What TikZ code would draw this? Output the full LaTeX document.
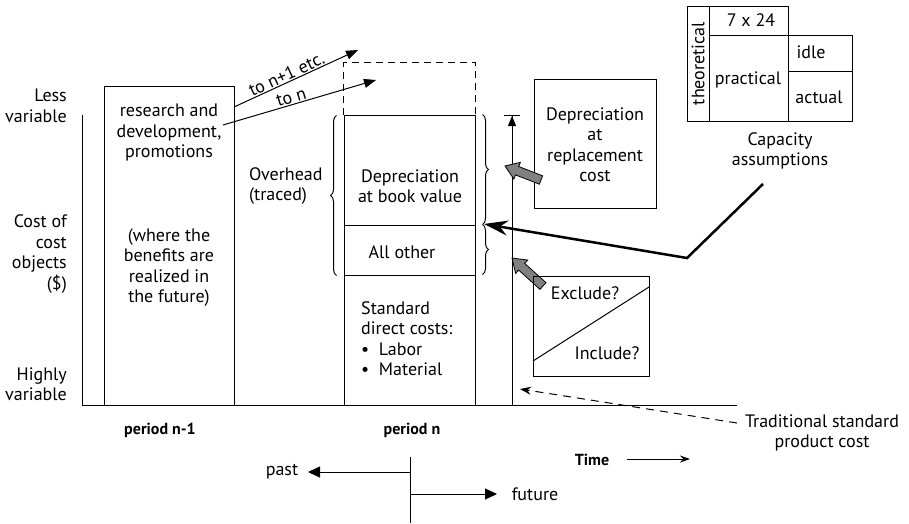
\documentclass[tikz,border=0pt]{standalone}
\usepackage{fontspec}
\setmainfont{PT Sans}
\usetikzlibrary{arrows.meta,decorations.pathreplacing,calc}
\begin{document}
\begin{tikzpicture}[x=1pt,y=-1pt,
  every node/.style={font=\fontsize{18}{20.5}\selectfont, inner sep=0pt},
  ln/.style={line width=1pt},
  txt/.style={align=center},
  bold/.style={font=\fontsize{16}{18}\selectfont\bfseries},
  grayfill/.style={draw=black, fill=black!50, line width=0.8pt, line join=miter},
  brc/.style={decorate, decoration={brace, amplitude=6pt}, line width=1pt},
  tri/.style={-{Triangle[length=12pt,width=11pt]}}
]
\useasboundingbox (0,0) rectangle (909,523);

% axes
\coordinate (ytop) at (82,115);
\coordinate (orig) at (82,405);
\coordinate (xend) at (737,405);
\draw[ln] (ytop) -- (orig) -- (xend);

% axis labels
\node[txt, align=right, anchor=east] (lessv) at (67,106) {Less\\variable};
\node[txt, align=right, anchor=east] (costobj) at (67,254) {Cost of\\cost\\objects\\(\$)};
\node[txt, align=right, anchor=east] (highv) at (67,384) {Highly\\variable};

% left box
\node[draw, line width=1pt, minimum width=130, minimum height=319] (rd) at (169,245.5) {};
\node[txt] (rdtext) at (169,132.5) {research and\\development,\\promotions};
\node[txt] (rdnote) at (169,267.5) {(where the\\benefits are\\realized in\\the future)};

\node[txt, align=left, anchor=west] (ovh) at (249,186) {Overhead\\(traced)};

% middle boxes
\node[draw, line width=1pt, minimum width=131, minimum height=110] (dbv) at (409.5,170) {};
\node[draw, line width=1pt, minimum width=131, minimum height=50] (aoth) at (409.5,250) {};
\node[draw, line width=1pt, minimum width=131, minimum height=130] (sdc) at (409.5,340) {};
\node[txt] (dbvt) at (410,186) {Depreciation\\at book value};
\node[txt] (aotht) at (402,252) {All other};
\node[txt, align=left, anchor=west] (sdct) at (361,338.5) {Standard\\direct costs:\\\textbullet\ \ Labor\\\textbullet\ \ Material};

% dashed box above
\draw[ln, dash pattern=on 7pt off 5pt] (dbv.north west) -- ++(0,-52) -| (dbv.north east);

% braces
\draw[brc] (aoth.south west) ++(-7,0) coordinate (lb1) -- ++(0,-160) coordinate (lb2);
\draw[brc] (dbv.north east) ++(7,0) coordinate (rb1) -- ++(0,110) coordinate (rb2);
\draw[brc] (rb2) -- ++(0,50) coordinate (rb3);

% to n arrows
\coordinate (a1s) at (234,107);
\coordinate (a1e) at (358,50);
\coordinate (a2s) at (223,125);
\coordinate (a2e) at (376,80);
\draw[ln, -{Triangle[length=12pt,width=9pt]}] (a1s) -- node[pos=0.45, above=1pt, sloped] (lbl1) {to n+1 etc.} (a1e);
\draw[ln, -{Triangle[length=12pt,width=9pt]}] (a2s) -- node[pos=0.46, above=1pt, sloped] (lbl2) {to n} (a2e);

% vertical arrow with bar
\coordinate (vb) at (512,405);
\coordinate (vt) at (512,115);
\draw[ln, -{Triangle[length=10pt,width=8pt] Bar[width=16pt,line width=1pt]}] (vb) -- (vt);

% depreciation at replacement cost
\node[draw, line width=1pt, minimum width=122, minimum height=129] (drc) at (595,143.5) {};
\node[txt] (drct) at (595,144.5) {Depreciation\\at\\replacement\\cost};

% gray block arrows
\coordinate (g1t) at (541,180);
\coordinate (g1p) at (505,166);
\coordinate (g2t) at (543,286);
\coordinate (g2p) at (512,258);
\foreach \T/\P in {g1t/g1p, g2t/g2p}{
  \path[grayfill] ($(\T)!4.5pt!90:(\P)$) -- ($($(\P)!13pt!(\T)$)!4.5pt!-90:(\T)$)
     -- ($($(\P)!13pt!(\T)$)!9pt!-90:(\T)$) -- (\P)
     -- ($($(\P)!13pt!(\T)$)!9pt!90:(\T)$) -- ($($(\P)!13pt!(\T)$)!4.5pt!90:(\T)$)
     -- ($(\T)!4.5pt!-90:(\P)$) -- cycle;
}

% exclude/include box
\node[draw, line width=1pt, minimum width=116, minimum height=100] (exin) at (591,326) {};
\coordinate (d1) at (533,361);
\coordinate (d2) at (649,287);
\draw[ln] (d1) -- (d2);
\node (excl) at (585,293) {Exclude?};
\node (incl) at (607,353) {Include?};

% capacity box
\node[draw, line width=1pt, minimum width=22, minimum height=115] (theo) at (698,63.5) {};
\node[rotate=90] (theot) at (698,63.5) {theoretical};
\node[draw, line width=1pt, minimum width=79, minimum height=29] (c724) at (748.5,20.5) {};
\node (c724t) at (751,20) {7 x 24};
\node[draw, line width=1pt, minimum width=79, minimum height=86] (prac) at (748.5,78) {};
\node (pract) at (748,80) {practical};
\node[draw, line width=1pt, minimum width=64, minimum height=36] (idle) at (820,53) {};
\node (idlet) at (811,52) {idle};
\node[draw, line width=1pt, minimum width=64, minimum height=50] (act) at (820,96) {};
\node (actt) at (819,97) {actual};
\node[txt] (capa) at (780,151) {Capacity\\assumptions};

% thick line
\coordinate (k1) at (763,184);
\coordinate (k2) at (687,258);
\coordinate (k3) at (484,224);
\draw[line width=2.5pt, -{Stealth[length=24pt,width=15pt,inset=8pt]}] (k1) -- (k2) -- (k3);

% traditional standard product cost
\node[txt] (trad) at (822,433) {Traditional standard\\product cost};
\coordinate (ds) at (737,423);
\coordinate (de) at (520,389);
\draw[ln, dash pattern=on 8pt off 6pt, -{Stealth[length=11pt,width=8pt]}] (ds) -- (de);

% time
\node[bold] (time) at (592,460) {Time};
\coordinate (t1) at (627,459);
\coordinate (t2) at (690,459);
\draw[ln, -{Stealth[length=10pt,width=7pt]}] (t1) -- (t2);

% periods
\node[bold] (pn1) at (160,430) {period n-1};
\node[bold] (pn) at (412,430) {period n};

% past / future
\coordinate (pf1) at (410,457);
\coordinate (pf2) at (410,523);
\draw[ln] (pf1) -- (pf2);
\coordinate (pa1) at (410,472);
\coordinate (pa2) at (308,472);
\coordinate (fu1) at (410,494);
\coordinate (fu2) at (497,494);
\draw[ln, tri] (pa1) -- (pa2);
\draw[ln, tri] (fu1) -- (fu2);
\node (past) at (282,472) {past};
\node (future) at (535,494) {future};
\end{tikzpicture}
\end{document}
